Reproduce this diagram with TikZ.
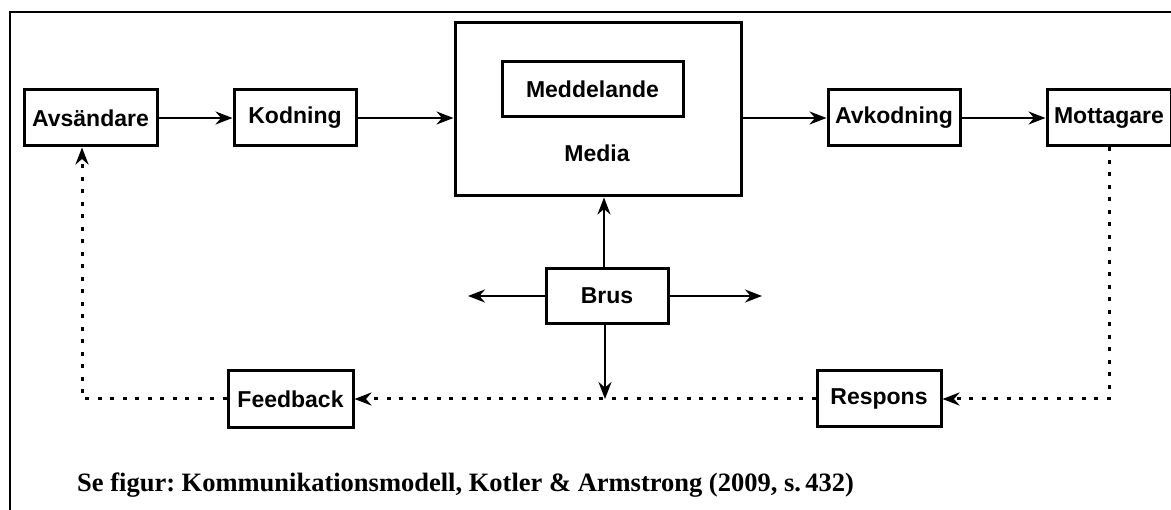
\documentclass[tikz,border=0pt]{standalone}
\usepackage{fontspec}
\setmainfont{Liberation Serif}
\setsansfont{Liberation Sans}
\usetikzlibrary{positioning,arrows.meta}

\tikzset{
    block/.style={draw, rectangle, line width=3pt, inner sep=0,
        minimum height=56pt},
    arr/.style={line width=2.2pt, -{Stealth[length=17pt,width=13pt]}},
    fbarr/.style={line width=3pt, dash pattern=on 4pt off 8.5pt,
        -{Stealth[length=17pt,width=13pt]}}
}

\begin{document}
\frenchspacing
\begin{tikzpicture}[x=1pt,y=-1pt,font=\sffamily\bfseries\fontsize{23}{26}\selectfont]
\useasboundingbox (0,0) rectangle (1171,510);

% frame
\draw[line width=2.5pt] (1171,12) -- (10,12) -- (10,510);

% Top row
\node[block,
    minimum width=133pt] (avs) at (90.5,118) {Avsändare};

\node[block,
    right=74pt of avs,
    minimum width=122pt] (kod) {Kodning};

\node[block,
    right=96pt of kod,
    yshift=8.5pt,
    minimum width=286pt,
    minimum height=173pt] (media) {};

\node[block,
    minimum width=181pt,
    minimum height=55pt] (medd) at (592.5,89.5) {Meddelande};
\node (medialbl) at (597,153) {Media};

\node[block,
    right=84pt of media,
    yshift=-8.5pt,
    minimum width=132pt] (avk) {Avkodning};

\node[block,
    right=84pt of avk,
    minimum width=124pt] (mot) {Mottagare};

% Noise
\node[block,
    minimum width=122pt,
    minimum height=55pt] (brus) at (607,296) {Brus};

% Feedback row
\node[block,
    minimum width=125pt,
    minimum height=57pt] (feed) at (290.5,399) {Feedback};

\node[block,
    minimum width=124pt] (resp) at (879,399) {Respons};

\coordinate (noiseL) at (468,296);
\coordinate (noiseR) at (762,296);
\coordinate (fbL) at (82,399);

% Arrows
\draw[arr] (avs) -- (kod);
\draw[arr] (kod) -- (kod -| media.west);
\draw[arr] (media.east |- avk) -- (avk);
\draw[arr] (avk) -- (mot);

\draw[arr] (brus.north -| 604,0) -- (media.south -| 604,0);
\draw[arr] (brus) -- (noiseL);
\draw[arr] (brus) -- (noiseR);
\draw[arr] (brus.south -| 605,0) -- (feed -| 605,0);

\draw[fbarr] (mot) |- (resp);
\draw[fbarr] (resp) -- (feed);
\draw[fbarr] (feed) -- (fbL) -- (fbL |- avs.south);

% Caption
\node[anchor=base west,
    inner sep=0,
    font=\rmfamily\bfseries\fontsize{26.5}{29}\selectfont] (caption) at (77,492)
    {Se figur: Kommunikationsmodell, Kotler \& Armstrong (2009, s.\,432)};

\end{tikzpicture}
\end{document}
